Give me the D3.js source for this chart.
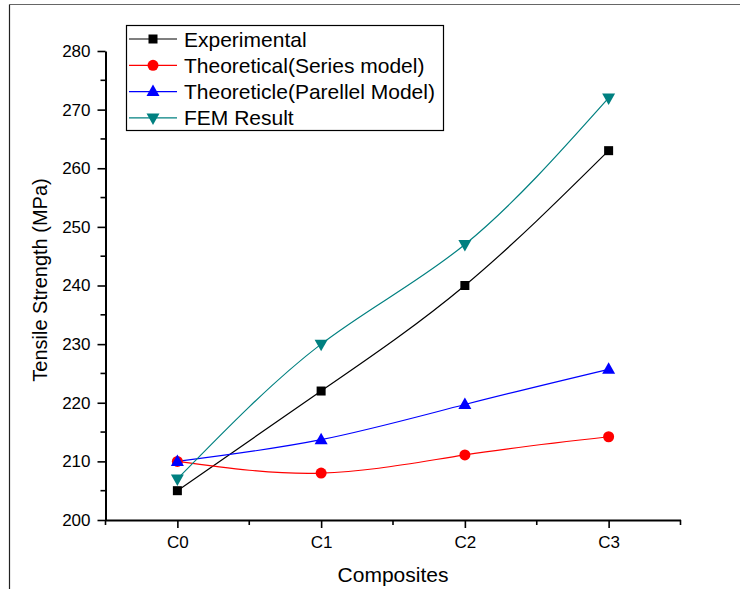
<!DOCTYPE html>
<html>
<head>
<meta charset="utf-8">
<script src="https://cdn.jsdelivr.net/npm/d3@7"></script>
<style>
  html, body { margin: 0; padding: 0; background: #fff; }
  svg { display: block; font-family: "Liberation Sans", Arial, sans-serif; }
</style>
</head>
<body>
<svg id="chart" width="740" height="589"></svg>
<script>
// Tensile strength of composites C0–C3
const categories = ["C0", "C1", "C2", "C3"];
const experimental = [205, 222, 240, 263];
const seriesModel = [210, 208, 211.1, 214.2];
const parallelModel = [210, 213.7, 219.7, 225.7];
const femResult = [207, 230, 247, 272];
const yTicks = [200, 210, 220, 230, 240, 250, 260, 270, 280];

const seriesList = [
  { name: "Experimental", values: experimental, color: "#000000", symbol: "square" },
  { name: "Theoretical(Series model)", values: seriesModel, color: "#ff0000", symbol: "circle" },
  { name: "Theoreticle(Parellel Model)", values: parallelModel, color: "#0000ff", symbol: "triangle" },
  { name: "FEM Result", values: femResult, color: "#008080", symbol: "triangleDown" }
];

const svg = d3.select("#chart");

// frame lines along the top and left of the canvas
svg.append("line").attr("x1", 9.5).attr("x2", 740).attr("y1", 4.5).attr("y2", 4.5)
  .attr("stroke", "#666").attr("stroke-width", 1.2);
svg.append("line").attr("x1", 9.5).attr("x2", 9.5).attr("y1", 4.5).attr("y2", 589)
  .attr("stroke", "#222").attr("stroke-width", 1.2);

const plotLeft = 105.5, plotRight = 680.5, plotTop = 51, plotBottom = 520;

const x = d3.scaleLinear().domain([-0.5, 3.5]).range([plotLeft, plotRight]);
const y = d3.scaleLinear().domain([200, 280]).range([plotBottom, plotTop]);

// minor ticks (half steps), drawn first
const yMinor = d3.range(205, 280, 10);
svg.append("g").selectAll("line").data(yMinor).join("line")
  .attr("x1", plotLeft - 5).attr("x2", plotLeft)
  .attr("y1", d => y(d)).attr("y2", d => y(d))
  .attr("stroke", "#000").attr("stroke-width", 1.6);
const xMinor = [-0.5, 0.5, 1.5, 2.5, 3.5];
svg.append("g").selectAll("line").data(xMinor).join("line")
  .attr("x1", d => x(d)).attr("x2", d => x(d))
  .attr("y1", plotBottom).attr("y2", plotBottom + 5)
  .attr("stroke", "#000").attr("stroke-width", 1.6);

// Y axis
const yAxis = svg.append("g").attr("transform", `translate(${plotLeft},0)`)
  .call(d3.axisLeft(y).tickValues(yTicks).tickSize(8).tickPadding(7).tickSizeOuter(0));
// X axis
const xAxis = svg.append("g").attr("transform", `translate(0,${plotBottom})`)
  .call(d3.axisBottom(x).tickValues([0, 1, 2, 3]).tickFormat(i => categories[i])
    .tickSize(8).tickPadding(8).tickSizeOuter(0));

[yAxis, xAxis].forEach(g => {
  g.select(".domain").attr("stroke", "#000").attr("stroke-width", 2);
  g.selectAll(".tick line").attr("stroke", "#000").attr("stroke-width", 1.6);
  g.selectAll(".tick text").attr("font-size", 17).attr("fill", "#000")
    .attr("font-family", "Liberation Sans, Arial, sans-serif");
});

// axis titles
svg.append("text").attr("x", 393).attr("y", 582).attr("text-anchor", "middle")
  .attr("font-size", 21).attr("fill", "#000").text("Composites");
svg.append("text").attr("transform", "translate(47,280) rotate(-90)")
  .attr("text-anchor", "middle").attr("font-size", 20).attr("fill", "#000")
  .text("Tensile Strength (MPa)");

// marker shapes
function drawMarker(g, symbol, color) {
  if (symbol === "square") {
    g.append("rect").attr("x", -4.5).attr("y", -4.5).attr("width", 9).attr("height", 9).attr("fill", color);
  } else if (symbol === "circle") {
    g.append("circle").attr("r", 5.5).attr("fill", color);
  } else if (symbol === "triangle") {
    g.append("path").attr("d", "M0,-7 L6.5,4.5 L-6.5,4.5 Z").attr("fill", color);
  } else {
    g.append("path").attr("d", "M0,7 L6.5,-4.5 L-6.5,-4.5 Z").attr("fill", color);
  }
}

const line = d3.line().x((d, i) => x(i)).y(d => y(d)).curve(d3.curveNatural);

const plot = svg.append("g");
seriesList.forEach(s => {
  plot.append("path").datum(s.values).attr("d", line)
    .attr("fill", "none").attr("stroke", s.color).attr("stroke-width", 1.2);
});
seriesList.forEach(s => {
  s.values.forEach((v, i) => {
    const g = plot.append("g").attr("transform", `translate(${x(i)},${y(v)})`);
    drawMarker(g, s.symbol, s.color);
  });
});

// legend
const legend = svg.append("g");
legend.append("rect").attr("x", 126.5).attr("y", 25.5).attr("width", 317).attr("height", 105)
  .attr("fill", "#fff").attr("stroke", "#000").attr("stroke-width", 1.2);
seriesList.forEach((s, i) => {
  const cy = 39 + i * 26.3;
  legend.append("line").attr("x1", 129).attr("x2", 177).attr("y1", cy).attr("y2", cy)
    .attr("stroke", s.color).attr("stroke-width", 1.2);
  const g = legend.append("g").attr("transform", `translate(153,${cy})`);
  drawMarker(g, s.symbol, s.color);
  legend.append("text").attr("x", 184).attr("y", cy).attr("dy", "0.36em")
    .attr("font-size", 21).attr("fill", "#000").text(s.name);
});
</script>
</body>
</html>
